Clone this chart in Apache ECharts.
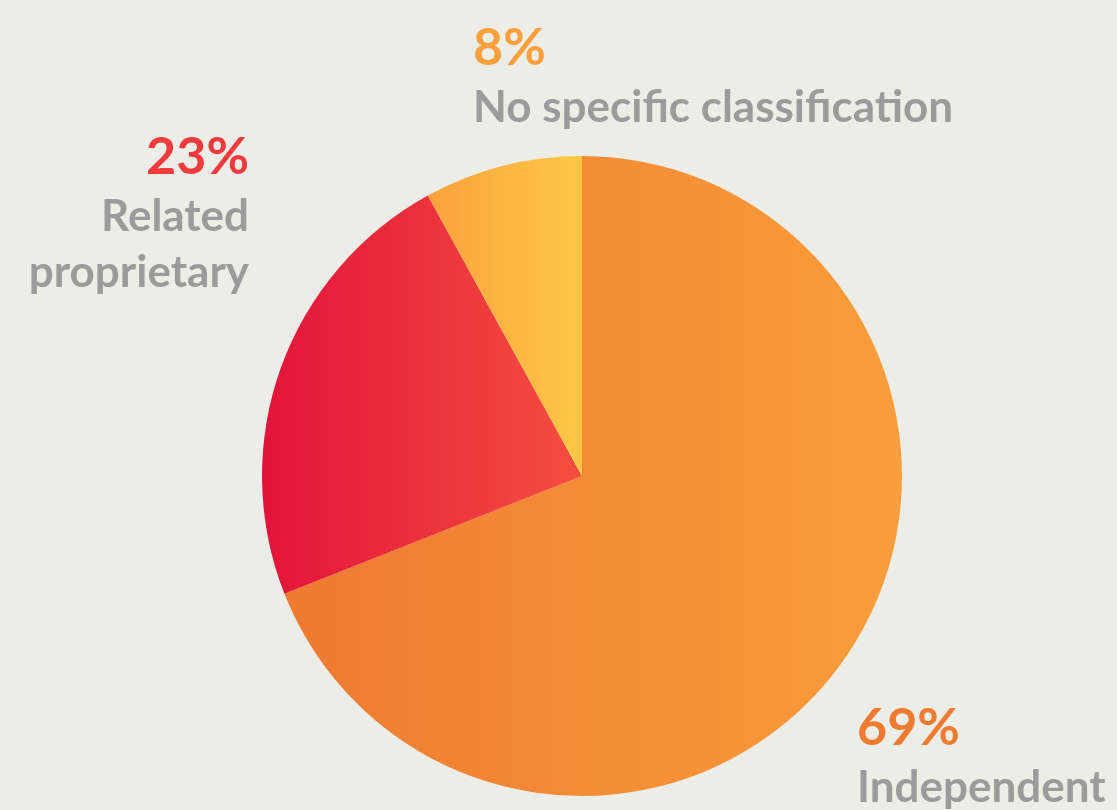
<!DOCTYPE html>
<html><head><meta charset="utf-8">
<script src="https://cdn.jsdelivr.net/npm/echarts@6/dist/echarts.min.js"></script>
<style>html,body{margin:0;padding:0;background:#EDEDE8}#c{width:1117px;height:810px}</style>
</head><body><div id="c"></div>
<script>
const categories = ['Independent', 'Related\nproprietary', 'No specific classification'];
const values = [69, 23, 8];
const pctColors = ['#EF7B30', '#EF3B3E', '#F9A03C'];
const gradients = [['#EE7A30', '#F99E3C'], ['#E3133B', '#F44F3F'], ['#FAA23D', '#FDC846']];
const labelPos = [
  {x: 857, y: 696, align: 'left'},
  {x: 249, y: 125, align: 'right'},
  {x: 473, y: 16, align: 'left'}
];
const FONT = 'Lato';
const chart = echarts.init(document.getElementById('c'));
chart.setOption({
  backgroundColor: '#EDEDE8',
  animation: false,
  series: [{
    type: 'pie',
    center: [582, 476],
    radius: 320,
    startAngle: 90,
    clockwise: true,
    avoidLabelOverlap: false,
    labelLine: {show: false},
    data: categories.map((c, i) => ({
      name: c, value: values[i],
      itemStyle: {color: new echarts.graphic.LinearGradient(0, 0, 1, 0, [
        {offset: 0, color: gradients[i][0]}, {offset: 1, color: gradients[i][1]}])},
      label: {rich: {p: {color: pctColors[i], fontSize: 52, fontWeight: 'bold', fontFamily: FONT, lineHeight: 64},
                     n: {color: '#9B9B9B', fontSize: 44, fontWeight: 'bold', fontFamily: FONT, lineHeight: 56}}}
    })),
    label: {
      show: true,
      formatter: p => '{p|' + p.value + '%}\n' + p.name.split('\n').map(s => '{n|' + s + '}').join('\n'),
      align: 'left'
    },
    labelLayout: p => ({x: labelPos[p.dataIndex].x, y: labelPos[p.dataIndex].y,
                        align: labelPos[p.dataIndex].align, verticalAlign: 'top'})
  }]
});
</script></body></html>
